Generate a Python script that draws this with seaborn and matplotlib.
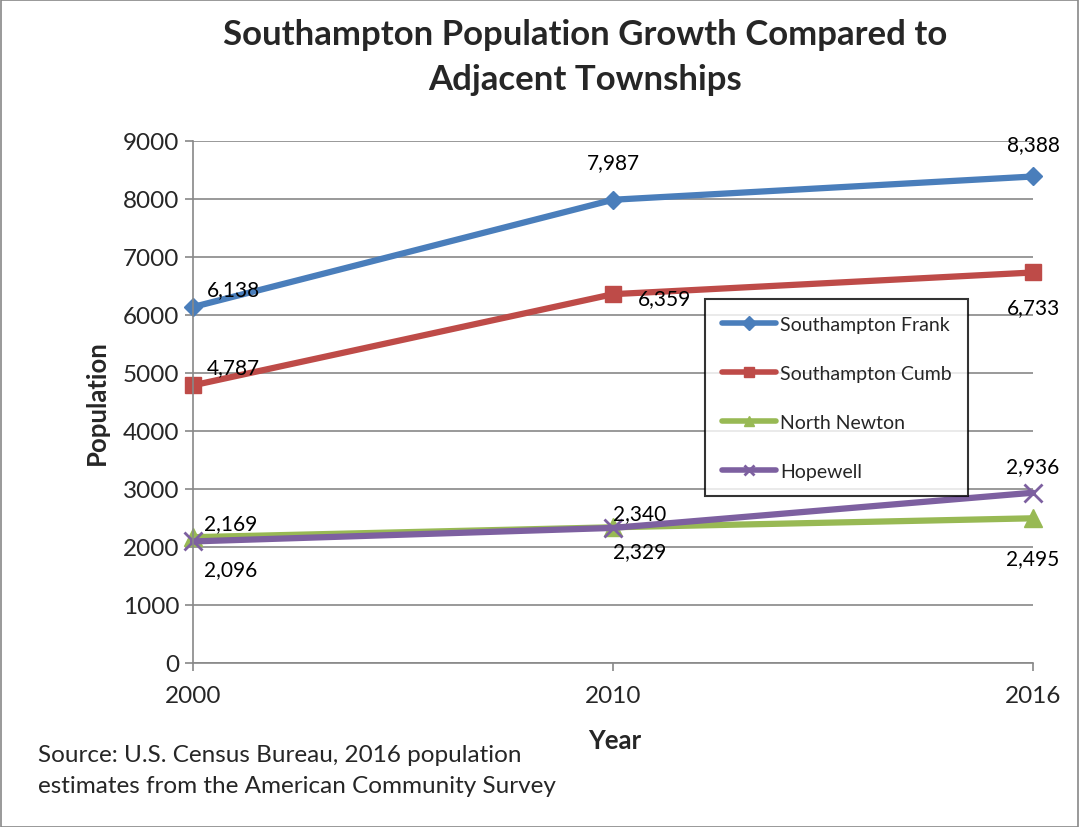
import matplotlib
matplotlib.use("Agg")
import matplotlib.pyplot as plt
import seaborn as sns
import pandas as pd
from matplotlib.patches import Rectangle

years = ["2000", "2010", "2016"]
series_names = ["Southampton Frank", "Southampton Cumb", "North Newton", "Hopewell"]
frank = [6138, 7987, 8388]
cumb = [4787, 6359, 6733]
newton = [2169, 2340, 2495]
hopewell = [2096, 2329, 2936]
y_ticks = [0, 1000, 2000, 3000, 4000, 5000, 6000, 7000, 8000, 9000]

values = [frank, cumb, newton, hopewell]
colors = ["#4A7EBB", "#BE4B48", "#98B954", "#7D60A0"]
markers = ["D", "s", "^", "x"]
msizes = [9, 12, 13, 13]

rows = []
for name, vals in zip(series_names, values):
    for i, (yr, v) in enumerate(zip(years, vals)):
        rows.append({"Year": yr, "pos": i, "Population": v, "Series": name})
df = pd.DataFrame(rows)

sns.set_theme(style="white")
plt.rcParams["font.family"] = ["Lato", "DejaVu Sans"]

fig = plt.figure(figsize=(10.79, 8.28), dpi=100)
ax = fig.add_axes([193/1079, 1 - 664/828, (1033-193)/1079, (664-142)/828])

for name, c, m, ms in zip(series_names, colors, markers, msizes):
    sub = df[df["Series"] == name]
    sns.lineplot(data=sub, x="pos", y="Population", ax=ax, color=c, linewidth=4.5,
                 marker=m, markersize=ms, markeredgecolor=c,
                 markeredgewidth=2 if m == "x" else 1, label=name)

ax.set_xlim(0, 2)
ax.set_ylim(0, 9000)
ax.set_yticks(y_ticks)
ax.set_yticklabels([str(t) for t in y_ticks], fontsize=17.5)
ax.set_xticks(range(len(years)))
ax.set_xticklabels(years, fontsize=17.5)
ax.tick_params(axis="both", direction="out", length=6, color="#888888", width=1.2, pad=4, bottom=True, left=True)
ax.tick_params(axis="x", pad=10)
ax.grid(axis="y", color="#888888", linewidth=1.2)
ax.grid(axis="x", visible=False)
for s in ["top", "right"]:
    ax.spines[s].set_visible(False)
for s in ["left", "bottom"]:
    ax.spines[s].set_color("#888888")
    ax.spines[s].set_linewidth(1.2)
ax.set_xlabel("")
ax.set_ylabel("Population", fontsize=18.5, fontweight="bold", labelpad=10)
for line in ax.lines:
    line.set_clip_on(False)

# data labels: (dx, dy) offsets in points
offsets = {
    "Southampton Frank": [(10, 6, "left"), (0, 20, "center"), (0, 16, "center")],
    "Southampton Cumb": [(10, 6, "left"), (18, -10, "left"), (0, -32, "center")],
    "North Newton": [(8, 3, "left"), (0, 3, "left"), (0, -36, "center")],
    "Hopewell": [(8, -27, "left"), (0, -24, "left"), (0, 12, "center")],
}
for name, vals in zip(series_names, values):
    for i, v in enumerate(vals):
        dx, dy, ha = offsets[name][i]
        ax.annotate(f"{v:,}", (i, v), xytext=(dx, dy), textcoords="offset points",
                    ha=ha, va="bottom", fontsize=15, color="black")

leg = ax.legend(loc="upper left", bbox_to_anchor=((705-193)/840, (664-300)/522),
                fontsize=14, frameon=True, fancybox=False, edgecolor="black",
                labelspacing=1.65, handlelength=2.8, handletextpad=0.2,
                borderpad=0.85, borderaxespad=0)
leg.get_frame().set_linewidth(1.5)
for h in leg.legend_handles:
    h.set_linewidth(4)
    h.set_markersize(7)

fig.text(585/1079, 1 - 35/828, "Southampton Population Growth Compared to", ha="center", va="center",
         fontsize=25, fontweight="bold")
fig.text(585/1079, 1 - 80/828, "Adjacent Townships", ha="center", va="center",
         fontsize=25, fontweight="bold")
fig.text(615/1079, 1 - 741/828, "Year", ha="center", va="center", fontsize=18.5, fontweight="bold")
fig.text(38/1079, 1 - 755/828, "Source: U.S. Census Bureau, 2016 population", ha="left", va="center", fontsize=17.5)
fig.text(38/1079, 1 - 787/828, "estimates from the American Community Survey", ha="left", va="center", fontsize=17.5)

fig.patches.append(Rectangle((1/1079, 0), 1 - 2/1079, 1 - 1/828, transform=fig.transFigure,
                             fill=False, edgecolor="#888888", linewidth=1.2))

fig.savefig("out.png", dpi=100)
